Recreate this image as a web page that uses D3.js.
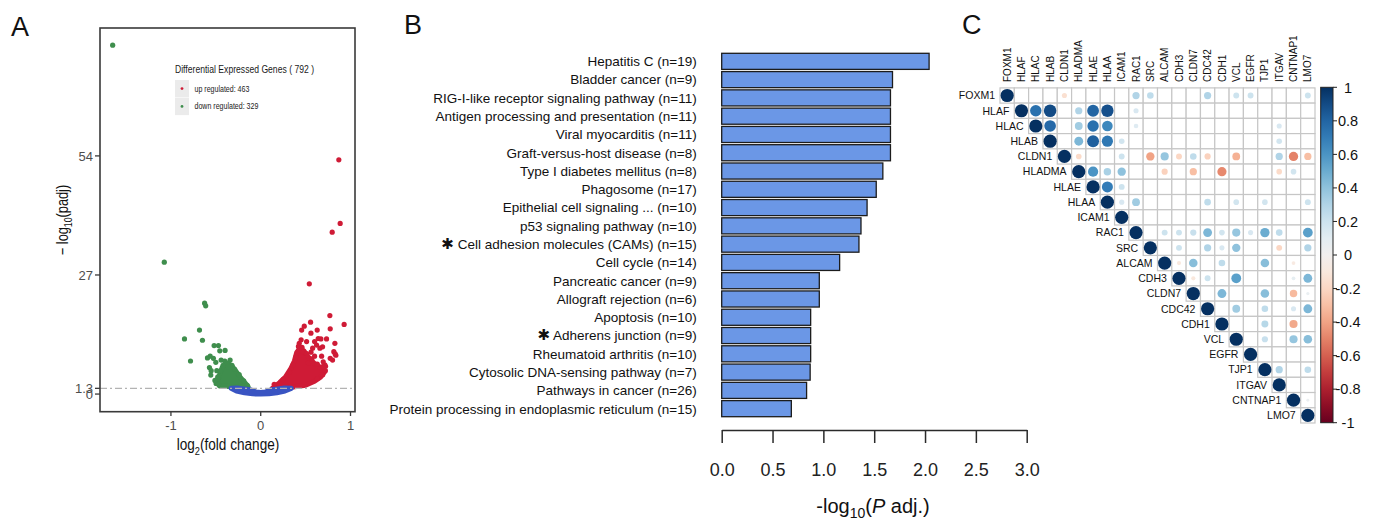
<!DOCTYPE html>
<html>
<head>
<meta charset="utf-8">
<script src="https://cdn.jsdelivr.net/npm/d3@7"></script>
<style>
    body { margin: 0; background: #ffffff; }
    svg text { font-family: "Liberation Sans", Arial, Helvetica, sans-serif; }
</style>
</head>
<body>
<svg id="figure" width="1397" height="527"></svg>
<script>
// ---------- Panel A: volcano plot ----------
var volcanoXTicks = [-1, 0, 1];
var volcanoYTicks = [0, 1.3, 27, 54];
var padjCutoff = 1.3;

// [log2 fold change, -log10 padj]
var downGenes = [
    [-1.649, 79.1], [-1.074, 29.9], [-0.625, 20.6], [-0.613, 20.0], [-0.682, 14.5],
    [-0.849, 12.5], [-0.649, 12.2], [-0.782, 7.5], [-0.519, 11.0], [-0.471, 11.0],
    [-0.456, 9.8], [-0.397, 9.9], [-0.563, 8.6], [-0.593, 8.2], [-0.527, 8.1],
    [-0.500, 7.2], [-0.441, 7.7], [-0.400, 7.5], [-0.341, 7.7], [-0.571, 6.0],
    [-0.552, 5.3], [-0.489, 5.3], [-0.556, 4.3], [-0.478, 3.9], [-0.497, 2.4],
    [-0.47, 2.2], [-0.48, 3.5], [-0.45, 5.2], [-0.42, 6.5], [-0.37, 7.0],
    [-0.32, 6.5], [-0.29, 5.6], [-0.24, 4.4], [-0.19, 3.0], [-0.15, 2.0],
    [-0.51, 3.1], [-0.36, 6.2]
];
var upGenes = [
    [0.870, 53.1], [0.885, 38.7], [0.796, 36.7], [0.541, 25.0], [0.929, 15.8],
    [0.770, 17.8], [0.774, 14.8], [0.555, 16.3], [0.485, 15.4], [0.456, 14.5],
    [0.629, 14.5], [0.559, 13.8], [0.670, 12.5], [0.733, 12.5], [0.826, 11.5],
    [0.429, 11.5], [0.814, 9.6], [0.829, 9.1], [0.774, 8.1], [0.800, 7.7],
    [0.722, 6.3], [0.678, 8.6], [0.600, 11.9], [0.622, 11.1], [0.659, 10.4],
    [0.578, 10.4], [0.511, 11.9], [0.474, 9.6], [0.696, 7.3], [0.530, 7.0],
    [0.640, 12.6], [0.689, 10.7], [0.837, 8.8], [0.714, 6.6],
    [0.15, 2.2], [0.25, 3.3], [0.32, 4.9], [0.36, 6.6], [0.39, 8.4],
    [0.42, 10.8], [0.46, 10.6], [0.51, 9.2], [0.57, 8.0], [0.63, 6.8],
    [0.69, 6.2], [0.72, 5.3], [0.69, 4.4], [0.63, 3.5], [0.45, 12.3],
    [0.56, 9.5], [0.60, 8.6]
];
// outlines of the densely packed point clouds
var downCore = [
    [-0.46, 1.8], [-0.48, 2.8], [-0.46, 4.3], [-0.43, 6.0], [-0.405, 6.6], [-0.35, 6.8],
    [-0.31, 6.1], [-0.27, 5.0], [-0.22, 3.6], [-0.17, 2.4], [-0.14, 1.7], [-0.26, 1.6]
];
var upCore = [
    [0.13, 1.3], [0.21, 2.6], [0.28, 4.0], [0.335, 5.8], [0.375, 7.5], [0.40, 9.4],
    [0.437, 10.4], [0.48, 9.8], [0.53, 8.4], [0.60, 6.9], [0.66, 6.1], [0.70, 5.6],
    [0.71, 5.0], [0.67, 3.9], [0.60, 2.9], [0.50, 2.0], [0.36, 1.6], [0.18, 1.5]
];
var nsCore = [
    [-0.33, 1.3], [-0.27, 0.7], [-0.18, 0.3], [-0.09, 0.05], [0, 0], [0.09, 0.05],
    [0.18, 0.3], [0.27, 0.7], [0.34, 1.3], [0.25, 1.35], [0.12, 1.0], [0.05, 0.45],
    [0, 0.35], [-0.05, 0.45], [-0.12, 1.0], [-0.25, 1.35]
];
var legendTitle = "Differential Expressed Genes ( 792 )";
var legendItems = ["up regulated: 463", "down regulated: 329"];

// ---------- Panel B: KEGG enrichment ----------
var pathways = [
    "Hepatitis C", "Bladder cancer", "RIG-I-like receptor signaling pathway",
    "Antigen processing and presentation", "Viral myocarditis", "Graft-versus-host disease",
    "Type I diabetes mellitus", "Phagosome", "Epithelial cell signaling ...",
    "p53 signaling pathway", "Cell adhesion molecules (CAMs)", "Cell cycle",
    "Pancreatic cancer", "Allograft rejection", "Apoptosis", "Adherens junction",
    "Rheumatoid arthritis", "Cytosolic DNA-sensing pathway", "Pathways in cancer",
    "Protein processing in endoplasmic reticulum"
];
var pathwayN = [19, 9, 11, 11, 11, 8, 8, 17, 10, 10, 15, 14, 9, 6, 10, 9, 10, 7, 26, 15];
var pathwayScore = [2.04, 1.68, 1.66, 1.66, 1.66, 1.66, 1.585, 1.52, 1.43, 1.37,
    1.35, 1.16, 0.96, 0.96, 0.875, 0.875, 0.875, 0.87, 0.835, 0.685];
var starredPathways = ["Cell adhesion molecules (CAMs)", "Adherens junction"];
var scoreTicks = [0, 0.5, 1, 1.5, 2, 2.5, 3];

// ---------- Panel C: correlation matrix ----------
var genes = ["FOXM1", "HLAF", "HLAC", "HLAB", "CLDN1", "HLADMA", "HLAE", "HLAA", "ICAM1",
    "RAC1", "SRC", "ALCAM", "CDH3", "CLDN7", "CDC42", "CDH1", "VCL", "EGFR", "TJP1",
    "ITGAV", "CNTNAP1", "LMO7"];
var corrPairs = [
    ["FOXM1", "CLDN1", -0.15], ["FOXM1", "RAC1", 0.3], ["FOXM1", "SRC", 0.25],
    ["FOXM1", "CDC42", 0.3], ["FOXM1", "VCL", 0.2], ["FOXM1", "EGFR", 0.2], ["FOXM1", "LMO7", 0.2],
    ["HLAF", "HLAC", 0.75], ["HLAF", "HLAB", 0.9], ["HLAF", "HLADMA", 0.3], ["HLAF", "HLAE", 0.8],
    ["HLAF", "HLAA", 0.88], ["HLAF", "RAC1", 0.15],
    ["HLAC", "HLAB", 0.78], ["HLAC", "HLADMA", 0.35], ["HLAC", "HLAE", 0.75], ["HLAC", "HLAA", 0.65],
    ["HLAC", "RAC1", 0.12], ["HLAC", "ITGAV", 0.15],
    ["HLAB", "HLADMA", 0.45], ["HLAB", "HLAE", 0.82], ["HLAB", "HLAA", 0.72], ["HLAB", "ICAM1", 0.18],
    ["HLAB", "ITGAV", 0.18],
    ["CLDN1", "HLADMA", -0.18], ["CLDN1", "ICAM1", 0.2], ["CLDN1", "SRC", -0.4], ["CLDN1", "ALCAM", 0.38],
    ["CLDN1", "CDH3", -0.2], ["CLDN1", "CLDN7", 0.25], ["CLDN1", "CDC42", -0.22], ["CLDN1", "VCL", -0.35],
    ["CLDN1", "ITGAV", 0.3], ["CLDN1", "CNTNAP1", -0.5], ["CLDN1", "LMO7", -0.3],
    ["HLADMA", "HLAE", 0.6], ["HLADMA", "HLAA", 0.32], ["HLADMA", "ICAM1", 0.4], ["HLADMA", "ALCAM", -0.22],
    ["HLADMA", "CLDN7", -0.3], ["HLADMA", "CDH1", -0.48], ["HLADMA", "ITGAV", -0.18],
    ["HLADMA", "CNTNAP1", 0.18],
    ["HLAE", "HLAA", 0.7], ["HLAE", "ICAM1", 0.2],
    ["HLAA", "ICAM1", 0.15], ["HLAA", "RAC1", 0.35], ["HLAA", "CDC42", 0.25], ["HLAA", "VCL", 0.18],
    ["HLAA", "TJP1", 0.18], ["HLAA", "LMO7", 0.2],
    ["RAC1", "ALCAM", 0.2], ["RAC1", "CDH3", 0.2], ["RAC1", "CLDN7", 0.22], ["RAC1", "CDC42", 0.45],
    ["RAC1", "CDH1", 0.18], ["RAC1", "VCL", 0.38], ["RAC1", "EGFR", 0.15], ["RAC1", "TJP1", 0.5],
    ["RAC1", "ITGAV", 0.25], ["RAC1", "LMO7", 0.55],
    ["SRC", "CDH3", 0.2], ["SRC", "CDC42", 0.3], ["SRC", "CDH1", 0.15], ["SRC", "VCL", 0.4],
    ["SRC", "ITGAV", -0.2], ["SRC", "LMO7", 0.3],
    ["ALCAM", "CDH3", -0.1], ["ALCAM", "CLDN7", 0.42], ["ALCAM", "CDH1", 0.25], ["ALCAM", "TJP1", 0.42],
    ["ALCAM", "CNTNAP1", -0.08],
    ["CDH3", "CLDN7", -0.1], ["CDH3", "CDC42", 0.2], ["CDH3", "VCL", 0.55], ["CDH3", "CNTNAP1", 0.08],
    ["CDH3", "LMO7", 0.45],
    ["CLDN7", "CDH1", 0.45], ["CLDN7", "TJP1", 0.42], ["CLDN7", "CNTNAP1", -0.32], ["CLDN7", "LMO7", 0.06],
    ["CDC42", "VCL", 0.35], ["CDC42", "TJP1", 0.25], ["CDC42", "CNTNAP1", 0.15], ["CDC42", "LMO7", 0.45],
    ["CDH1", "TJP1", 0.28], ["CDH1", "CNTNAP1", -0.38],
    ["VCL", "TJP1", 0.22], ["VCL", "CNTNAP1", 0.38], ["VCL", "LMO7", 0.42],
    ["TJP1", "ITGAV", 0.3], ["TJP1", "LMO7", 0.25],
    ["CNTNAP1", "LMO7", 0.05]
];
var colorbarTicks = [1, 0.8, 0.6, 0.4, 0.2, 0, -0.2, -0.4, -0.6, -0.8, -1];

var svg = d3.select("#figure");

/**
 * Appends a text with a subscript part: before, sub, after
 */
function subText(sel, before, sub, after, size) {
    sel.append("tspan").text(before);
    sel.append("tspan").attr("font-size", size * 0.68).attr("dy", size * 0.28).text(sub);
    var rest = sel.append("tspan").attr("dy", -size * 0.28);
    return rest.text(after);
}

function drawVolcano() {
    var red = "#cf1b36", green = "#3f8e4d", blue = "#3954c2";
    var xA = d3.scaleLinear().domain([-1.79, 1.05]).range([100, 355]);
    var yA = d3.scaleLinear().domain([-4, 83]).range([411.7, 28]);
    var gA = svg.append("g");
    var line = d3.line().x(function (d) { return xA(d[0]); }).y(function (d) { return yA(d[1]); });

    gA.append("text").attr("x", 11).attr("y", 36).attr("font-size", 27).attr("fill", "#111").text("A");

    // dense clouds
    [[downCore, green], [upCore, red]].forEach(function (c) {
        gA.append("path")
            .attr("d", line(c[0]) + "Z")
            .attr("fill", c[1]).attr("stroke", c[1])
            .attr("stroke-width", 5).attr("stroke-linejoin", "round");
    });

    gA.append("g").selectAll("circle")
        .data(downGenes).join("circle")
        .attr("cx", function (d) { return xA(d[0]); })
        .attr("cy", function (d) { return yA(d[1]); })
        .attr("r", 2.6).attr("fill", green);

    gA.append("g").selectAll("circle")
        .data(upGenes).join("circle")
        .attr("cx", function (d) { return xA(d[0]); })
        .attr("cy", function (d) { return yA(d[1]); })
        .attr("r", 2.6).attr("fill", red);

    gA.append("path")
        .attr("d", line(nsCore) + "Z")
        .attr("fill", blue).attr("stroke", blue)
        .attr("stroke-width", 5).attr("stroke-linejoin", "round");

    // significance threshold
    gA.append("line")
        .attr("x1", xA.range()[0]).attr("x2", xA.range()[1])
        .attr("y1", yA(padjCutoff)).attr("y2", yA(padjCutoff))
        .attr("stroke", "#b3b3b3").attr("stroke-width", 1.2)
        .attr("stroke-dasharray", "7,3,2,3");

    // frame
    gA.append("rect")
        .attr("x", 100).attr("y", 28).attr("width", 255).attr("height", 383.7)
        .attr("fill", "none").attr("stroke", "#3a3a3a").attr("stroke-width", 1.6);

    // ticks
    gA.append("g").selectAll("line")
        .data(volcanoYTicks).join("line")
        .attr("x1", 95).attr("x2", 100)
        .attr("y1", function (d) { return yA(d); }).attr("y2", function (d) { return yA(d); })
        .attr("stroke", "#3a3a3a").attr("stroke-width", 1.3);
    gA.append("g").selectAll("text")
        .data(volcanoYTicks).join("text")
        .attr("x", 93).attr("y", function (d) { return yA(d); })
        .attr("dy", "0.36em").attr("text-anchor", "end")
        .attr("font-size", 13).attr("fill", "#4d4d4d")
        .text(function (d) { return d; });

    gA.append("g").selectAll("line")
        .data(volcanoXTicks).join("line")
        .attr("x1", function (d) { return xA(d); }).attr("x2", function (d) { return xA(d); })
        .attr("y1", 411.7).attr("y2", 416)
        .attr("stroke", "#3a3a3a").attr("stroke-width", 1.3);
    gA.append("g").selectAll("text")
        .data(volcanoXTicks).join("text")
        .attr("x", function (d) { return xA(d); }).attr("y", 430)
        .attr("text-anchor", "middle")
        .attr("font-size", 13).attr("fill", "#4d4d4d")
        .text(function (d) { return d; });

    // axis titles (narrow font look)
    var xt = gA.append("g").attr("transform", "translate(228,450) scale(0.8,1)")
        .append("text").attr("text-anchor", "middle").attr("font-size", 17).attr("fill", "#111");
    subText(xt, "log", "2", "(fold change)", 17);

    var yt = gA.append("g").attr("transform", "translate(68,220) rotate(-90) scale(0.8,1)")
        .append("text").attr("text-anchor", "middle").attr("font-size", 16).attr("fill", "#111");
    subText(yt, "\u2212 log", "10", "(padj)", 16);

    // legend
    gA.append("g").attr("transform", "translate(175,72.5) scale(0.82,1)")
        .append("text").attr("font-size", 10.5).attr("fill", "#1a1a1a").text(legendTitle);
    var lg = gA.append("g").selectAll("g")
        .data(legendItems).join("g")
        .attr("transform", function (d, i) { return "translate(175," + (80 + i * 17.8) + ")"; });
    lg.append("rect").attr("width", 14).attr("height", 17.3).attr("fill", "#ebebeb");
    lg.append("circle").attr("cx", 7).attr("cy", 8.6).attr("r", 1.4)
        .attr("fill", function (d, i) { return i === 0 ? red : green; });
    lg.append("g").attr("transform", "translate(19.5,11.6) scale(0.82,1)")
        .append("text").attr("font-size", 8.6).attr("fill", "#1a1a1a")
        .text(function (d) { return d; });
}

function drawEnrichment() {
    var xB = d3.scaleLinear().domain([0, 3]).range([721.7, 1026.7]);
    var yB = d3.scaleBand().domain(pathways).range([52.2, 417.8])
        .paddingInner(0.12).paddingOuter(0.06);
    var gB = svg.append("g");

    gB.append("text").attr("x", 404).attr("y", 34).attr("font-size", 27).attr("fill", "#111").text("B");

    gB.append("g").selectAll("rect")
        .data(pathways).join("rect")
        .attr("x", xB(0))
        .attr("y", function (d) { return yB(d); })
        .attr("width", function (d, i) { return xB(pathwayScore[i]) - xB(0); })
        .attr("height", yB.bandwidth())
        .attr("fill", "#6b97e6").attr("stroke", "#1c1c1c").attr("stroke-width", 1.3);

    var labels = gB.append("g").selectAll("text")
        .data(pathways).join("text")
        .attr("x", 696.7)
        .attr("y", function (d) { return yB(d) + yB.bandwidth() / 2; })
        .attr("dy", "0.36em").attr("text-anchor", "end")
        .attr("font-size", 13.5).attr("fill", "#111");
    labels.each(function (d, i) {
        var t = d3.select(this);
        if (starredPathways.indexOf(d) >= 0) {
            t.append("tspan").attr("font-family", "DejaVu Sans").attr("font-size", 15).text("\u2731");
            t.append("tspan").text("  ");
        }
        t.append("tspan").text(d + " (n=" + pathwayN[i] + ")");
    });

    var axisB = d3.axisBottom(xB)
        .tickValues(scoreTicks)
        .tickSize(13).tickSizeOuter(0).tickPadding(20)
        .tickFormat(d3.format(".1f"));
    var ax = gB.append("g").attr("transform", "translate(0,430)").call(axisB);
    ax.selectAll("path, line").attr("stroke", "#2a2a2a").attr("stroke-width", 1.5);
    ax.selectAll("text").attr("font-size", 18).attr("fill", "#222")
        .attr("font-family", "\"Liberation Sans\", Arial, sans-serif");

    var title = gB.append("text").attr("x", 873).attr("y", 513)
        .attr("text-anchor", "middle").attr("font-size", 20).attr("fill", "#111");
    title.append("tspan").text("-log");
    title.append("tspan").attr("font-size", 14).attr("dy", 5).text("10");
    title.append("tspan").attr("dy", -5).text("(");
    title.append("tspan").attr("font-style", "italic").text("P");
    title.append("tspan").text(" adj.)");
}

function drawCorrelation() {
    var xC = d3.scaleBand().domain(genes).range([1000, 1315]);
    var yC = d3.scaleBand().domain(genes).range([87.9, 423]);
    var bw = xC.bandwidth(), bh = yC.bandwidth();
    var color = function (v) { return d3.interpolateRdBu((v + 1) / 2); };
    var radius = function (v) { return 6.6 * Math.sqrt(Math.abs(v)); };
    var gC = svg.append("g");

    gC.append("text").attr("x", 962).attr("y", 34).attr("font-size", 27).attr("fill", "#111").text("C");

    // upper triangle cells
    var cells = [];
    genes.forEach(function (r, i) {
        genes.forEach(function (c, j) { if (j >= i) cells.push([r, c]); });
    });
    gC.append("g").selectAll("rect")
        .data(cells).join("rect")
        .attr("x", function (d) { return xC(d[1]); })
        .attr("y", function (d) { return yC(d[0]); })
        .attr("width", bw).attr("height", bh)
        .attr("fill", "#ffffff").attr("stroke", "#c6c6c6").attr("stroke-width", 1.2);

    var marks = genes.map(function (g) { return [g, g, 1]; }).concat(corrPairs);
    gC.append("g").selectAll("circle")
        .data(marks).join("circle")
        .attr("cx", function (d) { return xC(d[1]) + bw / 2; })
        .attr("cy", function (d) { return yC(d[0]) + bh / 2; })
        .attr("r", function (d) { return radius(d[2]); })
        .attr("fill", function (d) { return color(d[2]); });

    // column labels
    gC.append("g").selectAll("text")
        .data(genes).join("text")
        .attr("transform", function (d) { return "translate(" + (xC(d) + bw / 2) + ",82) rotate(-90)"; })
        .attr("dy", "0.36em")
        .attr("font-size", 10).attr("fill", "#111")
        .text(function (d) { return d; });

    // row labels
    gC.append("g").selectAll("text")
        .data(genes).join("text")
        .attr("x", function (d) { return xC(d) - 5; })
        .attr("y", function (d) { return yC(d) + bh / 2; })
        .attr("dy", "0.36em").attr("text-anchor", "end")
        .attr("font-size", 10.5).attr("fill", "#111")
        .text(function (d) { return d; });

    // colour bar
    var yBar = d3.scaleLinear().domain([-1, 1]).range([422.7, 87.3]);
    var grad = svg.append("defs").append("linearGradient")
        .attr("id", "rdbu").attr("x1", 0).attr("x2", 0).attr("y1", 1).attr("y2", 0);
    d3.range(0, 1.0001, 0.05).forEach(function (t) {
        grad.append("stop").attr("offset", t).attr("stop-color", d3.interpolateRdBu(t));
    });
    gC.append("rect")
        .attr("x", 1320.7).attr("y", yBar(1))
        .attr("width", 12.3).attr("height", yBar(-1) - yBar(1))
        .attr("fill", "url(#rdbu)").attr("stroke", "#222").attr("stroke-width", 1);
    gC.append("g").selectAll("line")
        .data(colorbarTicks).join("line")
        .attr("x1", 1333).attr("x2", 1337)
        .attr("y1", function (d) { return yBar(d); }).attr("y2", function (d) { return yBar(d); })
        .attr("stroke", "#222").attr("stroke-width", 1);
    gC.append("g").selectAll("text")
        .data(colorbarTicks).join("text")
        .attr("x", 1348).attr("y", function (d) { return yBar(d); })
        .attr("dy", "0.36em").attr("text-anchor", "middle")
        .attr("font-size", 14.5).attr("fill", "#111")
        .text(function (d) { return d === 0 ? "0" : String(+d.toFixed(1)); });
}

drawVolcano();
drawEnrichment();
drawCorrelation();
</script>
</body>
</html>
